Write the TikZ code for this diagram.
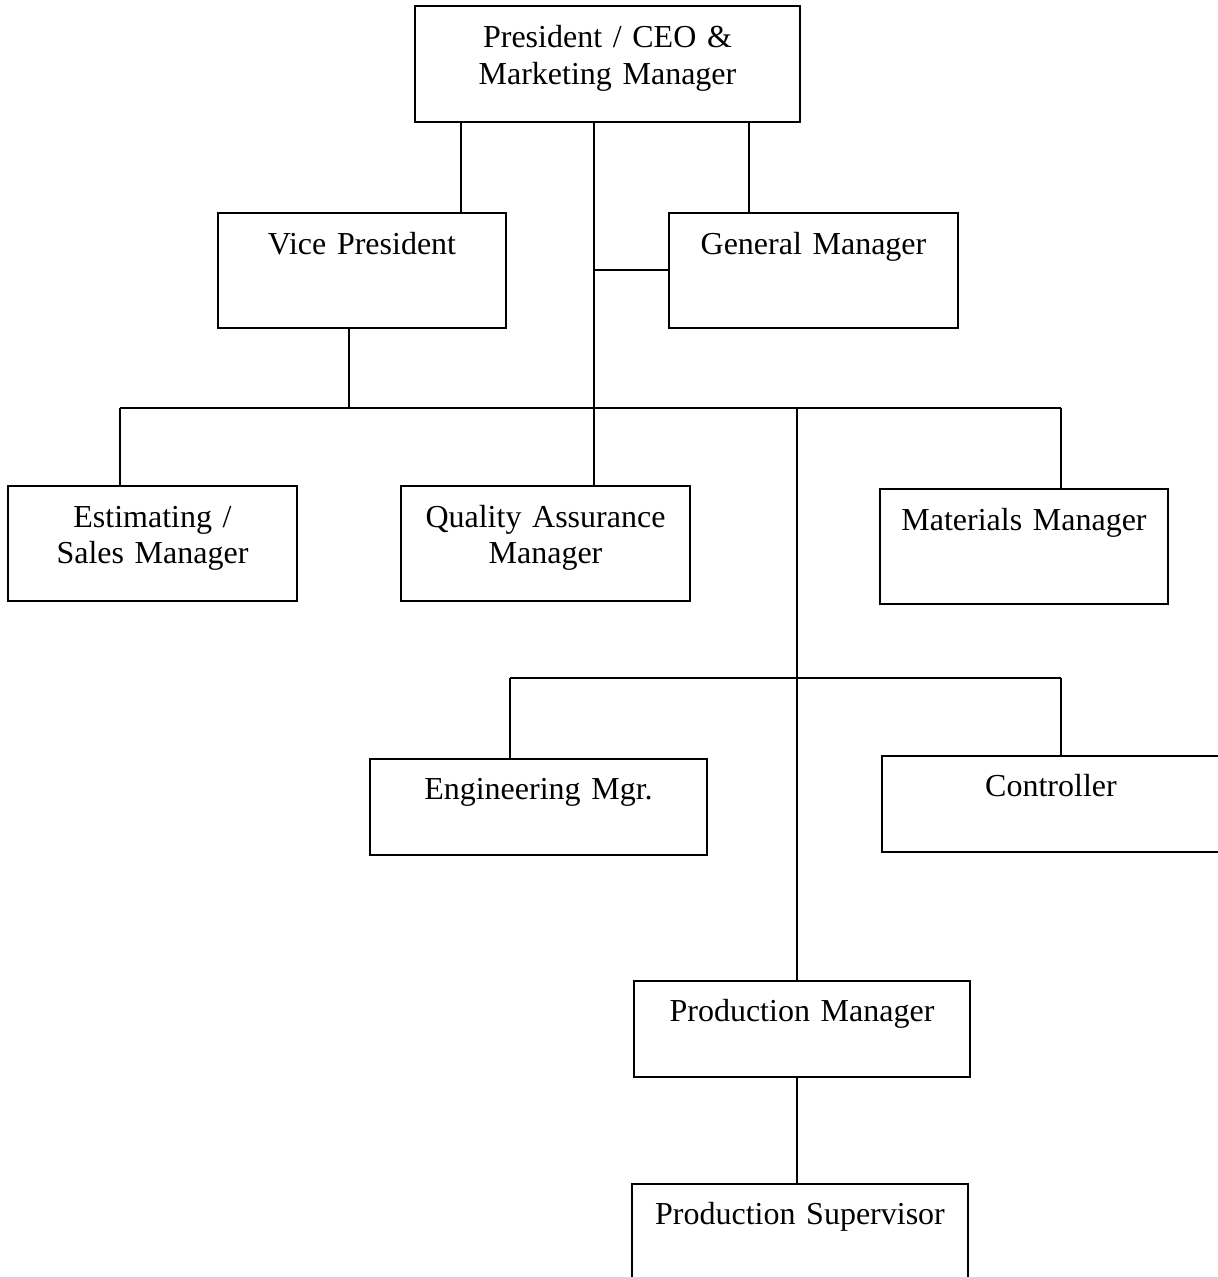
\documentclass[tikz,border=0pt]{standalone}
\usepackage{fontspec}
\setmainfont{Liberation Serif}
\usepackage{tikz}
\usetikzlibrary{calc}

\begin{document}
\begin{tikzpicture}[x=0.375pt, y=-0.375pt, line width=0.75pt,
        font=\fontsize{12pt}{13.8pt}\selectfont,
        post/.style={draw, inner sep=0pt, align=center, text height=15.4pt},
        tall/.style={post, text depth=27.75pt},
        low/.style={post, text depth=20.6pt}]
            \clip (0,0) rectangle (1218,1277);

            \node[tall, text width=144.4pt] (pres) at (607.5,64) {President / CEO \&\\Marketing Manager};
            \node[tall, text width=108pt] (vp) at (362,270.5) {Vice President};
            \node[tall, text width=108.4pt] (gm) at (813.5,270.5) {General Manager};
            \node[tall, text width=108.4pt] (est) at (152.5,543.5) {Estimating /\\Sales Manager};
            \node[tall, text width=108.4pt] (qa) at (545.5,543.5) {Quality Assurance\\Manager};
            \node[tall, text width=108pt] (mat) at (1024,546.5) {Materials Manager};
            \node[low, text width=126.4pt] (eng) at (538.5,806.5) {Engineering Mgr.};
            \node[low, text width=126.75pt] (ctl) at (1051,803.5) {Controller};
            \node[low, text width=126pt] (pm) at (802,1028.5) {Production Manager};
            \node[low, text width=126pt] (sup) at (800,1231.5) {Production Supervisor};

            \coordinate (vpin) at (461,0);
            \coordinate (gmin) at (749,0);
            \coordinate (gmj) at (594,270);
            \coordinate (busl) at (120,408);
            \coordinate (busr) at (1061,408);
            \coordinate (vpj) at (349,408);
            \coordinate (qaj) at (594,408);
            \coordinate (prj) at (797,408);
            \coordinate (engj) at (510,678);
            \coordinate (ctlj) at (1061,678);

            \draw (pres.south -| vpin) -- (vp.north -| vpin);
            \draw (pres.south -| gmin) -- (gm.north -| gmin);
            \draw (pres.south -| qaj) -- (qa.north -| qaj);
            \draw (gmj) -- (gm.west |- gmj);
            \draw (vp.south -| vpj) -- (vpj);
            \draw (busl) -- (busr);
            \draw (busl) -- (est.north -| busl);
            \draw (busr) -- (mat.north -| busr);
            \draw (prj) -- (pm.north -| prj);
            \draw (engj) -- (ctlj);
            \draw (engj) -- (eng.north -| engj);
            \draw (ctlj) -- (ctl.north -| ctlj);
            \draw (pm.south -| prj) -- (sup.north -| prj);
        \end{tikzpicture}
\end{document}
